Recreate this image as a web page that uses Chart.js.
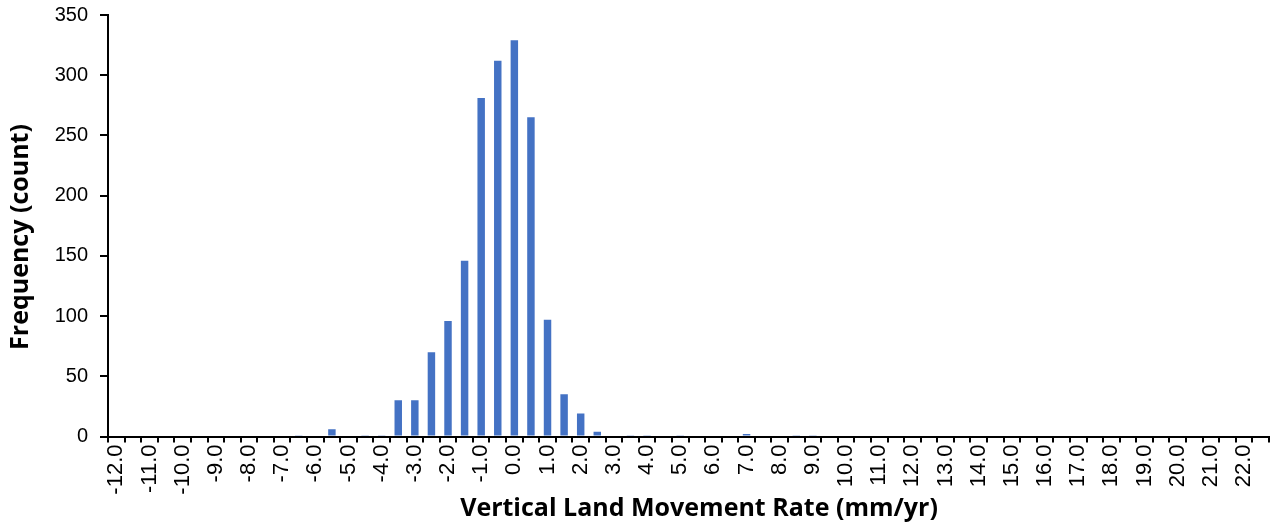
<!DOCTYPE html>
<html>
<head>
<meta charset="utf-8">
<script src="https://cdn.jsdelivr.net/npm/chart.js@4/dist/chart.umd.min.js"></script>
<style>
  html, body { margin: 0; padding: 0; background: #fff; }
  #wrap { position: relative; width: 1271px; height: 525px; }
</style>
</head>
<body>
<div id="wrap"><canvas id="c" width="1271" height="525"></canvas></div>
<script>
// Category labels (mm/yr), one bin every 0.5
const categories = [
  "-12.0","-11.5","-11.0","-10.5","-10.0","-9.5","-9.0","-8.5","-8.0","-7.5",
  "-7.0","-6.5","-6.0","-5.5","-5.0","-4.5","-4.0","-3.5","-3.0","-2.5",
  "-2.0","-1.5","-1.0","-0.5","0.0","0.5","1.0","1.5","2.0","2.5",
  "3.0","3.5","4.0","4.5","5.0","5.5","6.0","6.5","7.0","7.5",
  "8.0","8.5","9.0","9.5","10.0","10.5","11.0","11.5","12.0","12.5",
  "13.0","13.5","14.0","14.5","15.0","15.5","16.0","16.5","17.0","17.5",
  "18.0","18.5","19.0","19.5","20.0","20.5","21.0","21.5","22.0","22.5"
];
// Frequency counts
const frequency = [
  0,0,0,0,0,0,0,0,0,0,
  0,1,0,6,0,1,1,30,30,70,
  96,146,281,312,329,265,97,35,19,4,
  0,1,1,0,1,0,0,0,2,0,
  0,1,1,0,0,0,0,0,0,0,
  0,0,0,0,0,0,0,0,0,0,
  0,0,0,0,0,0,0,0,0,0
];
// Y-axis tick values
const yTicks = [0, 50, 100, 150, 200, 250, 300, 350];
const xTitle = "Vertical Land Movement Rate (mm/yr)";
const yTitle = "Frequency (count)";

const titlePlugin = {
  id: 'axisTitles',
  afterDraw(chart) {
    const ctx = chart.ctx;
    ctx.save();
    ctx.fillStyle = '#000';
    ctx.font = 'bold 25px "Open Sans"';
    ctx.textAlign = 'center';
    ctx.textBaseline = 'middle';
    ctx.fillText(xTitle, 699, 509);
    ctx.translate(21, 237);
    ctx.rotate(-Math.PI / 2);
    ctx.font = 'bold 25px "Open Sans"';
    ctx.fillText(yTitle, 0, 0);
    ctx.restore();
  }
};

new Chart(document.getElementById('c'), {
  type: 'bar',
  data: {
    labels: categories,
    datasets: [{
      data: frequency,
      backgroundColor: '#4472C4',
      borderWidth: 0,
      barPercentage: 0.45,
      categoryPercentage: 1.0
    }]
  },
  options: {
    responsive: false,
    animation: false,
    layout: { padding: { left: 0, right: 2, top: 15, bottom: 0 } },
    plugins: { legend: { display: false }, tooltip: { enabled: false } },
    scales: {
      x: {
        offset: true,
        grid: { display: true, offset: true, drawOnChartArea: false, drawTicks: true, tickLength: 6, color: '#000', lineWidth: 2 },
        border: { display: true, color: '#000', width: 2 },
        ticks: {
          autoSkip: false,
          maxRotation: 90,
          minRotation: 90,
          padding: 2,
          color: '#000',
          font: { family: 'Liberation Sans, Arial, sans-serif', size: 22 },
          callback: function(v, i) { return i % 2 === 0 ? categories[i] : ''; }
        },
        afterFit(scale) { scale.height = 88.5; scale.paddingLeft = 0; scale.paddingRight = 0; }
      },
      y: {
        min: 0,
        max: 350,
        afterBuildTicks(scale) { scale.ticks = yTicks.map(v => ({ value: v })); },
        grid: { display: true, drawOnChartArea: false, drawTicks: true, tickLength: 8, color: '#000', lineWidth: 2 },
        border: { display: true, color: '#000', width: 2 },
        ticks: {
          padding: 12,
          color: '#000',
          font: { family: 'Liberation Sans, Arial, sans-serif', size: 20 }
        },
        afterFit(scale) { scale.width = 108; scale.paddingTop = 0; scale.paddingBottom = 0; }
      }
    }
  },
  plugins: [titlePlugin]
});
</script>
</body>
</html>
